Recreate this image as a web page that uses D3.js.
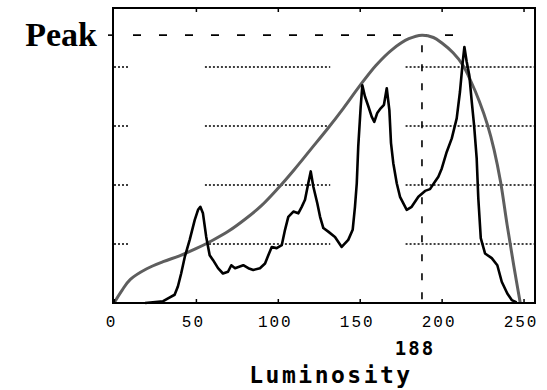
<!DOCTYPE html>
<html>
<head>
<meta charset="utf-8">
<script src="https://cdn.jsdelivr.net/npm/d3@7"></script>
<style>
  body { margin: 0; background: #fff; }
  svg { display: block; }
</style>
</head>
<body>
<div id="chart"></div>
<script>
const width = 547
const height = 390

// luminosity histogram (x = luminosity, y = relative count, gridline units)
const histLum = [19, 30, 33, 37, 39, 41, 43.2, 46.2, 49.3, 51.3, 52.7, 54.3, 56.3, 58.4, 60.4, 63.5, 66.5, 69.6, 71.6, 73.9,
  78.9, 82, 85, 89.1, 92.2, 94.2, 96.3, 99.3, 102.4, 104.4, 106.4, 109.5, 112.5, 114.6, 116.6, 118.6, 120.1, 121.7, 124.1, 125.8,
  127.8, 130.8, 134.9, 139, 143, 145.7, 147.1, 148.2, 149.1, 150.6, 151.6, 153.2, 155.3, 157.3, 158.9, 160.7, 162.8, 164.8, 166.5, 168.1,
  169.1, 170.5, 172.6, 174.6, 178.7, 181.7, 185.8, 189.9, 192.9, 196, 198, 200.1, 203.1, 206.2, 209.2, 211.2, 212.9, 213.9, 215.3, 216.9,
  218.4, 219.8, 221.4, 222.4, 223.9, 226.5, 230.6, 234, 236.7, 240.1, 242.8, 245.8]
const histCount = [0, 0.03, 0.08, 0.14, 0.28, 0.5, 0.78, 1.07, 1.41, 1.58, 1.63, 1.52, 1.12, 0.81, 0.73, 0.59, 0.5, 0.53, 0.64, 0.59,
  0.64, 0.59, 0.56, 0.59, 0.67, 0.81, 0.95, 0.93, 0.98, 1.24, 1.46, 1.55, 1.52, 1.63, 1.75, 2.03, 2.23, 1.97, 1.69, 1.46,
  1.27, 1.21, 1.12, 0.95, 1.07, 1.24, 1.63, 2.03, 2.65, 3.33, 3.69, 3.5, 3.33, 3.16, 3.07, 3.22, 3.3, 3.36, 3.64, 3.27,
  2.71, 2.37, 2.03, 1.8, 1.58, 1.63, 1.8, 1.9, 1.93, 2.06, 2.14, 2.28, 2.56, 2.79, 3.13, 3.58, 4.09, 4.34, 4.09, 3.86,
  3.41, 3.02, 2.45, 1.77, 1.1, 0.84, 0.76, 0.64, 0.36, 0.16, 0.05, 0.01]

// fitted curve
const fitLum = [0, 5, 10, 20, 30, 40, 50, 60, 70, 80, 90, 100, 110, 120, 130, 140, 150, 160, 170, 180, 188,
  195, 200, 207, 213, 218, 223, 228, 232, 236, 240, 244, 248]
const fitCount = [0, 0.22, 0.4, 0.58, 0.7, 0.8, 0.92, 1.06, 1.22, 1.42, 1.65, 1.94, 2.26, 2.6, 2.94, 3.3, 3.68, 4.03, 4.3, 4.48, 4.54,
  4.5, 4.41, 4.24, 4.03, 3.75, 3.42, 3.02, 2.6, 2.05, 1.32, 0.64, 0]

const xTicks = [0, 50, 100, 150, 200, 250]
const gridLevels = [1, 2, 3, 4]
const gridSegments = [[0, 9], [55.5, 132], [178, 257]]
const peakLum = 188
const peakCount = 4.54

const plotLeft = 114, plotRight = 535, plotTop = 8, plotBottom = 303

const x = d3.scaleLinear().domain([0, 257]).range([plotLeft, plotRight])
const y = d3.scaleLinear().domain([0, 5]).range([plotBottom, plotTop])

const svg = d3.select("#chart")
  .append("svg")
    .attr("width", width)
    .attr("height", height)

// dotted gridlines, broken into pieces
gridLevels.forEach(function(g) {
  gridSegments.forEach(function(s) {
    svg.append("line")
      .attr("x1", x(s[0])).attr("x2", x(s[1]))
      .attr("y1", y(g)).attr("y2", y(g))
      .attr("stroke", "#000")
      .attr("stroke-width", 1.4)
      .attr("stroke-dasharray", "2,2")
  })
})

// peak guide lines
svg.append("line")
  .attr("x1", x(0) + 19).attr("x2", x(peakLum) + 38)
  .attr("y1", y(peakCount)).attr("y2", y(peakCount))
  .attr("stroke", "#000").attr("stroke-width", 1.6)
  .attr("stroke-dasharray", "8,18")
svg.append("line")
  .attr("x1", x(0) - 6).attr("x2", x(0))
  .attr("y1", y(peakCount)).attr("y2", y(peakCount))
  .attr("stroke", "#000").attr("stroke-width", 1.6)
svg.append("line")
  .attr("x1", x(peakLum)).attr("x2", x(peakLum))
  .attr("y1", y(peakCount) + 10).attr("y2", plotBottom)
  .attr("stroke", "#000").attr("stroke-width", 1.6)
  .attr("stroke-dasharray", "7,12")

// fitted curve
const fitData = fitLum.map(function(d, i) { return [d, fitCount[i]] })
svg.append("path")
  .datum(fitData)
  .attr("d", d3.line()
    .x(function(d) { return x(d[0]) })
    .y(function(d) { return y(d[1]) })
    .curve(d3.curveCatmullRom.alpha(0.5)))
  .attr("fill", "none")
  .attr("stroke", "#5e5e5e")
  .attr("stroke-width", 3)

// histogram
const histData = histLum.map(function(d, i) { return [d, histCount[i]] })
svg.append("path")
  .datum(histData)
  .attr("d", d3.line()
    .x(function(d) { return x(d[0]) })
    .y(function(d) { return y(d[1]) }))
  .attr("fill", "none")
  .attr("stroke", "#000")
  .attr("stroke-width", 2.6)
  .attr("stroke-linejoin", "round")

// frame
svg.append("rect")
  .attr("x", plotLeft - 1).attr("y", plotTop)
  .attr("width", plotRight - plotLeft + 1).attr("height", plotBottom - plotTop)
  .attr("fill", "none")
  .attr("stroke", "#000")
  .attr("stroke-width", 2)

// axes: inward ticks
const xAxis = svg.append("g")
  .attr("transform", "translate(0," + plotBottom + ")")
  .call(d3.axisBottom(x).tickValues(xTicks).tickSizeInner(-4).tickSizeOuter(0))
xAxis.select(".domain").remove()
xAxis.selectAll("line").attr("stroke-width", 1.5)
xAxis.selectAll("text")
  .attr("y", 24).attr("dy", 0)
  .attr("dx", -3)
  .style("font-family", "'Liberation Mono', 'DejaVu Sans Mono', monospace")
  .style("font-size", "16px")
  .style("letter-spacing", "2px")
  .attr("fill", "#000")

const xTop = svg.append("g")
  .attr("transform", "translate(0," + plotTop + ")")
  .call(d3.axisTop(x).tickValues(xTicks.slice(1)).tickSizeInner(-4).tickSizeOuter(0).tickFormat(""))
xTop.select(".domain").remove()
xTop.selectAll("line").attr("stroke-width", 1.5)

// labels
svg.append("text")
  .attr("x", 97).attr("y", 46)
  .attr("text-anchor", "end")
  .style("font-family", "'Liberation Serif', serif")
  .style("font-weight", "bold")
  .style("font-size", "34px")
  .text("Peak")

svg.append("text")
  .attr("x", x(peakLum) - 7).attr("y", 355)
  .attr("text-anchor", "middle")
  .style("font-family", "'DejaVu Sans Mono', monospace")
  .style("font-weight", "bold")
  .style("font-size", "19px")
  .style("letter-spacing", "2px")
  .text(peakLum)

svg.append("text")
  .attr("x", 331).attr("y", 383)
  .attr("text-anchor", "middle")
  .style("font-family", "'DejaVu Sans Mono', monospace")
  .style("font-weight", "bold")
  .style("font-size", "23px")
  .style("letter-spacing", "2.5px")
  .text("Luminosity")
</script>
</body>
</html>
